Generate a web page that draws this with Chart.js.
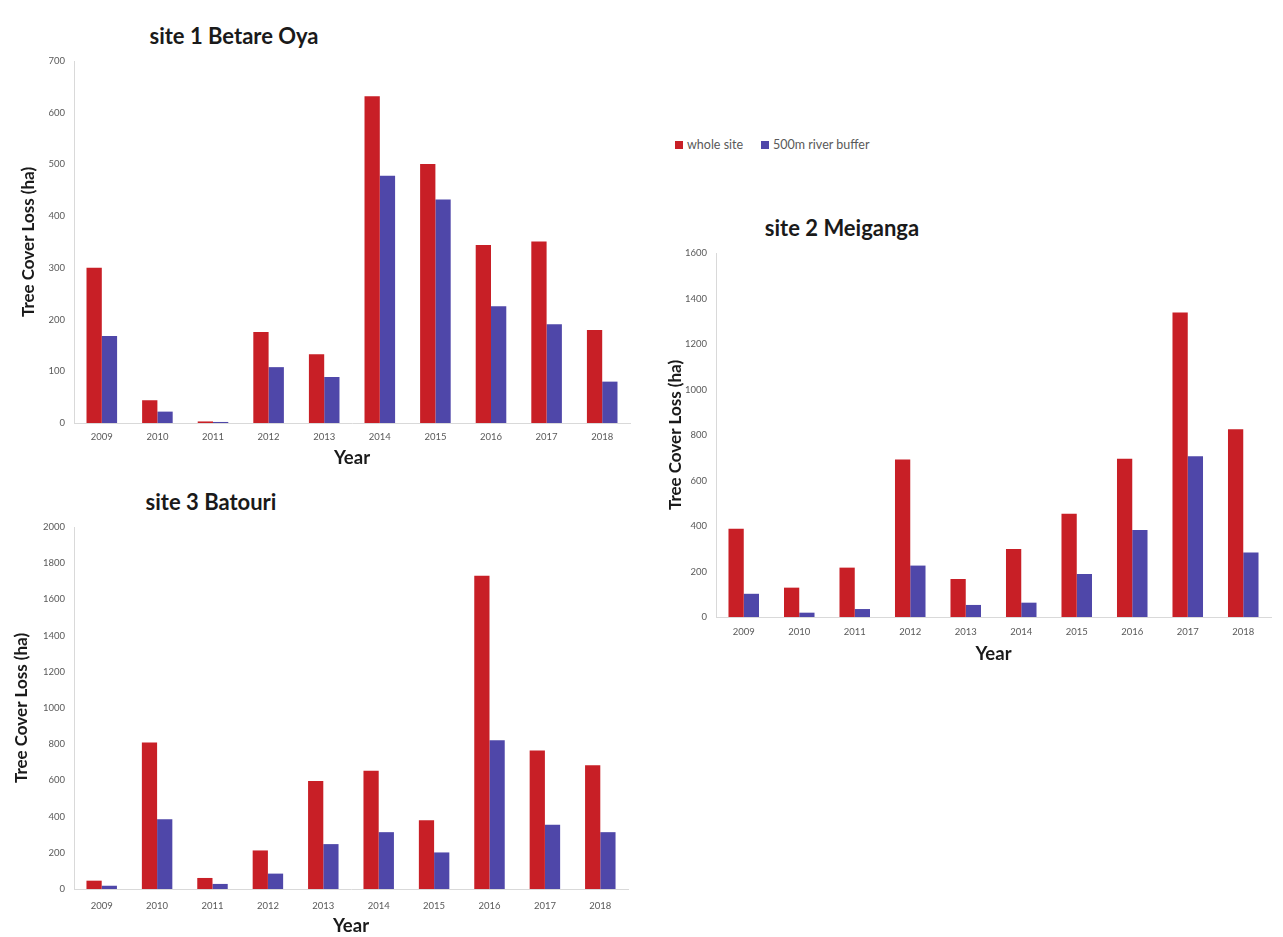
<!DOCTYPE html>
<html>
<head>
<meta charset="utf-8">
<script src="https://cdn.jsdelivr.net/npm/chart.js@4.4.1/dist/chart.umd.min.js"></script>
<style>
  html, body { margin: 0; padding: 0; background: #ffffff; }
  body { width: 1283px; height: 937px; position: relative; overflow: hidden; font-family: Lato, "Open Sans", sans-serif; }
  .panel { position: absolute; }
  .panel canvas { display: block; }
  .site-title { position: absolute; transform: translate(-50%, -50%); white-space: nowrap;
    font: bold 22px Lato, sans-serif; color: #1a1a1a; }
  #legend { position: absolute; left: 675px; top: 137px; display: flex; align-items: center;
    font: 12.5px Lato, sans-serif; color: #595959; }
  #legend .item { display: flex; align-items: center; margin-right: 18px; }
  #legend .swatch { width: 8px; height: 8px; margin-right: 4px; }
</style>
</head>
<body>

<div class="site-title" style="left:234px; top:35px;">site 1 Betare Oya</div>
<div class="site-title" style="left:842px; top:227px;">site 2 Meiganga</div>
<div class="site-title" style="left:211px; top:501px;">site 3 Batouri</div>
<div id="legend"></div>

<div class="panel" style="left:0px; top:41px; width:640px; height:432px;"><canvas id="site1"></canvas></div>
<div class="panel" style="left:640px; top:233px; width:641px; height:432px;"><canvas id="site2"></canvas></div>
<div class="panel" style="left:0px; top:507px; width:638px; height:430px;"><canvas id="site3"></canvas></div>

<script>
// Annual tree cover loss (ha), 2009-2018
const years = ['2009', '2010', '2011', '2012', '2013', '2014', '2015', '2016', '2017', '2018'];

const seriesNames = ['whole site', '500m river buffer'];
const seriesColors = ['#c81f26', '#4f47a9'];

const site1Whole  = [300, 44, 3, 176, 133, 632, 501, 344, 351, 180];
const site1Buffer = [168, 22, 2, 108, 89, 478, 432, 226, 191, 80];

const site2Whole  = [388, 129, 217, 692, 167, 299, 454, 696, 1339, 825];
const site2Buffer = [102, 19, 35, 226, 53, 63, 189, 382, 707, 283];

const site3Whole  = [46, 809, 61, 213, 597, 654, 380, 1730, 765, 684];
const site3Buffer = [18, 386, 28, 85, 248, 314, 202, 822, 355, 314];

// y-axis ranges: [max, step]
const site1Axis = [700, 100];
const site2Axis = [1600, 200];
const site3Axis = [2000, 200];

const axisLine = '#d9d9d9';
const tickColor = '#595959';

function buildChart(id, whole, buffer, axisRange, layout) {
  const ctx = document.getElementById(id);
  return new Chart(ctx, {
    type: 'bar',
    data: {
      labels: years,
      datasets: [
        { label: seriesNames[0], data: whole, backgroundColor: seriesColors[0] },
        { label: seriesNames[1], data: buffer, backgroundColor: seriesColors[1] }
      ]
    },
    options: {
      responsive: true,
      maintainAspectRatio: false,
      animation: false,
      categoryPercentage: 0.55,
      barPercentage: 1.0,
      layout: { padding: { top: 20, right: 10, bottom: 0, left: 0 } },
      plugins: { legend: { display: false }, tooltip: { enabled: false } },
      scales: {
        x: {
          grid: { display: false, drawTicks: false },
          border: { display: true, color: axisLine, width: 1 },
          ticks: { color: tickColor, font: { family: 'Lato', size: 9.5 }, padding: layout.xTickPad },
          title: { display: true, text: 'Year', color: '#1a1a1a',
                   font: { family: 'Lato', size: 18.5, weight: 'bold' },
                   padding: { top: 0, bottom: layout.xTitlePad } },
          afterFit: (s) => { s.height = layout.xHeight; }
        },
        y: {
          min: 0,
          max: axisRange[0],
          grid: { display: false, drawTicks: false },
          border: { display: true, color: axisLine, width: 1 },
          ticks: { stepSize: axisRange[1], color: tickColor, font: { family: 'Lato', size: 9.5 }, padding: 9,
                   callback: (v) => String(v) },
          title: { display: true, text: 'Tree Cover Loss (ha)', color: '#1a1a1a',
                   font: { family: 'Lato', size: 17, weight: 'bold' },
                   padding: { top: layout.yTitlePad, bottom: 0 } },
          afterFit: (s) => { s.width = layout.yWidth; }
        }
      }
    }
  });
}

buildChart('site1', site1Whole, site1Buffer, site1Axis, { yWidth: 74, yTitlePad: 18, xHeight: 50, xTickPad: 8.5, xTitlePad: 4 });
buildChart('site2', site2Whole, site2Buffer, site2Axis, { yWidth: 76, yTitlePad: 25.5, xHeight: 48, xTickPad: 9.3, xTitlePad: 0 });
buildChart('site3', site3Whole, site3Buffer, site3Axis, { yWidth: 74, yTitlePad: 11.5, xHeight: 48, xTickPad: 11, xTitlePad: 0 });

// Shared legend for the three panels
const legend = document.getElementById('legend');
seriesNames.forEach((name, i) => {
  const item = document.createElement('div');
  item.className = 'item';
  const sw = document.createElement('span');
  sw.className = 'swatch';
  sw.style.background = seriesColors[i];
  const txt = document.createElement('span');
  txt.textContent = name;
  item.appendChild(sw);
  item.appendChild(txt);
  legend.appendChild(item);
});
</script>
</body>
</html>
